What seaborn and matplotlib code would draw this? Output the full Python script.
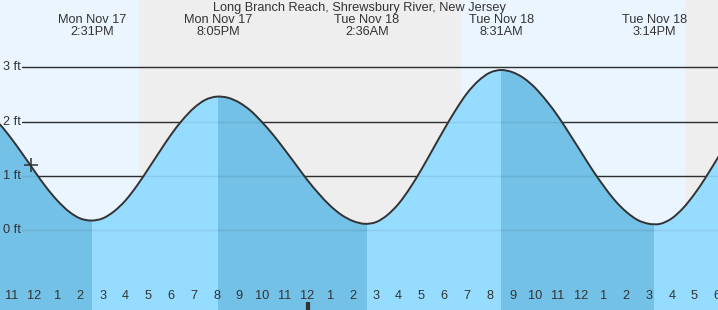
import numpy as np
import pandas as pd
import matplotlib
matplotlib.use("Agg")
import matplotlib.pyplot as plt
import matplotlib.transforms as mtransforms
from matplotlib.path import Path
from matplotlib.patches import PathPatch
import seaborn as sns

# ---- data (hours since Mon Nov 17 00:00, heights in ft) ----
title = "Long Branch Reach, Shrewsbury River, New Jersey"
event_times = [14.517, 20.083, 26.600, 32.517, 39.233]
event_heights = [0.18, 2.46, 0.12, 2.95, 0.11]
event_labels = ["Mon Nov 17\n2:31PM", "Mon Nov 17\n8:05PM", "Tue Nov 18\n2:36AM",
                "Tue Nov 18\n8:31AM", "Tue Nov 18\n3:14PM"]
event_kind = ["low", "high", "low", "high", "low"]

sample_times = [10.0, 10.5, 11.0, 11.5, 12.0, 12.5, 13.0, 13.5, 14.0, 14.5,
                15.0, 15.5, 16.0, 16.5, 17.0, 17.5, 18.0, 18.5, 19.0, 19.5, 20.0,
                20.5, 21.0, 21.5, 22.0, 22.5, 23.0, 23.5, 24.0, 24.5, 25.0, 25.5, 26.0, 26.5,
                27.0, 27.5, 28.0, 28.5, 29.0, 29.5, 30.0, 30.5, 31.0, 31.5, 32.0, 32.5,
                33.0, 33.5, 34.0, 34.5, 35.0, 35.5, 36.0, 36.5, 37.0, 37.5, 38.0, 38.5, 39.0,
                39.5, 40.0, 40.5, 41.0, 41.5, 42.0, 42.5]
sample_heights = [2.13, 1.94, 1.68, 1.39, 1.09, 0.80, 0.55, 0.35, 0.22, 0.18,
                  0.22, 0.35, 0.55, 0.82, 1.13, 1.45, 1.76, 2.03, 2.25, 2.40, 2.46,
                  2.44, 2.35, 2.20, 1.99, 1.75, 1.48, 1.20, 0.92, 0.67, 0.45, 0.28, 0.17, 0.12,
                  0.15, 0.28, 0.49, 0.78, 1.12, 1.49, 1.86, 2.21, 2.52, 2.75, 2.90, 2.95,
                  2.91, 2.80, 2.62, 2.38, 2.10, 1.78, 1.45, 1.12, 0.82, 0.55, 0.34, 0.19, 0.12,
                  0.12, 0.22, 0.41, 0.67, 0.98, 1.32, 1.65]

now_time, now_height = 11.835, 1.20
sun_times = [16.606, 30.728, 40.57]      # sunset Mon, sunrise Tue, sunset Tue
hours = list(range(11, 43))
hour_labels = [str((h % 12) or 12) for h in hours]
ft_levels = [0, 1, 2, 3]
ft_labels = ["0 ft", "1 ft", "2 ft", "3 ft"]

# ---- styling ----
DAY = "#eaf5ff"
NIGHT = "#eeeeee"
FALL = "#73c1e6"
RISE = "#96dcff"
INK = "#333333"
FONT = "Liberation Sans"
FS = 9.2

sns.set_theme(style="white")
plt.rcParams["font.family"] = [FONT, "DejaVu Sans"]

fig = plt.figure(figsize=(7.18, 3.10), dpi=100)
ax = fig.add_axes([0, 0, 1, 1])
x0, x1 = 10.486, 42.03
y0, y1 = -1.467, 4.239
ax.set_xlim(x0, x1)
ax.set_ylim(y0, y1)

# day / night background
bounds = [x0 - 1] + sun_times + [x1 + 1]
for i in range(len(bounds) - 1):
    ax.axvspan(bounds[i], bounds[i + 1], color=DAY if i % 2 == 0 else NIGHT, lw=0, zorder=0)

# gridlines (under water)
for lv in ft_levels:
    ax.axhline(lv, xmin=22 / 718, xmax=1, color=INK, lw=1.0, zorder=1)

# smooth curve through the read samples (Catmull-Rom rendered as cubic Bezier)
df = pd.DataFrame({"t": sample_times, "h": sample_heights})
P = df[["t", "h"]].to_numpy()
verts = [tuple(P[0])]
codes = [Path.MOVETO]
n = len(P)
for i in range(n - 1):
    p0 = P[i - 1] if i > 0 else P[i]
    p3 = P[i + 2] if i + 2 < n else P[i + 1]
    c1 = P[i] + (P[i + 1] - p0) / 6.0
    c2 = P[i + 1] - (p3 - P[i]) / 6.0
    verts += [tuple(c1), tuple(c2), tuple(P[i + 1])]
    codes += [Path.CURVE4] * 3
line_path = Path(verts, codes)
fill_verts = verts + [(P[-1, 0], y0 - 1), (P[0, 0], y0 - 1), tuple(P[0])]
fill_codes = codes + [Path.LINETO, Path.LINETO, Path.CLOSEPOLY]
water = PathPatch(Path(fill_verts, fill_codes), facecolor=RISE, lw=0, zorder=2)
ax.add_patch(water)

# falling-tide periods drawn darker (from each high, or chart start, to next low)
starts = [x0 - 1] + [et for et, k in zip(event_times, event_kind) if k == "high"]
ends = [et for et, k in zip(event_times, event_kind) if k == "low"]
for a, b in zip(starts, ends):
    sp = ax.axvspan(a, b, color=FALL, lw=0, zorder=2.1)
    sp.set_clip_path(water)

for lv in ft_levels:
    ax.axhline(lv, xmin=22 / 718, xmax=1, color="#000000", alpha=0.08, lw=1.0, zorder=3)

ax.add_patch(PathPatch(line_path, facecolor="none", edgecolor=INK, lw=1.4, zorder=4))
sns.scatterplot(x=[now_time], y=[now_height], ax=ax, marker="+", s=90, linewidth=1.1,
                color=INK, zorder=5)

# y labels
ytr = mtransforms.blended_transform_factory(ax.transAxes, ax.transData)
for lv, lab in zip(ft_levels, ft_labels):
    ax.text(3 / 718, lv, lab, transform=ytr, ha="left", va="center",
            fontsize=FS, color=INK, zorder=6)

# x ticks & labels
xtr = mtransforms.blended_transform_factory(ax.transData, ax.transAxes)
ax.set_xticks(hours)
ax.set_xticklabels([])
ax.tick_params(axis="x", direction="in", length=8, width=1, color=INK, bottom=True)
ax.set_yticks([])
for hr, lab in zip(hours, hour_labels):
    ax.text(hr, 14 / 310, lab, transform=xtr, ha="center", va="center",
            fontsize=FS, color=INK, zorder=6)
ax.vlines([24], 0, 8.5 / 310, transform=xtr, color=INK, lw=3, zorder=6)

# top event labels and title
for et, lab in zip(event_times, event_labels):
    ax.text(et, 1 - 26 / 310, lab, transform=xtr, ha="center", va="center",
            fontsize=FS, color=INK, linespacing=1.05, zorder=6)
ax.text(0.5, 1 - 8 / 310, title, transform=ax.transAxes, ha="center", va="center",
        fontsize=FS, color=INK, zorder=6)

ax.set_xlabel("")
ax.set_ylabel("")
for s in ax.spines.values():
    s.set_visible(False)

fig.savefig("out.png", dpi=100)
